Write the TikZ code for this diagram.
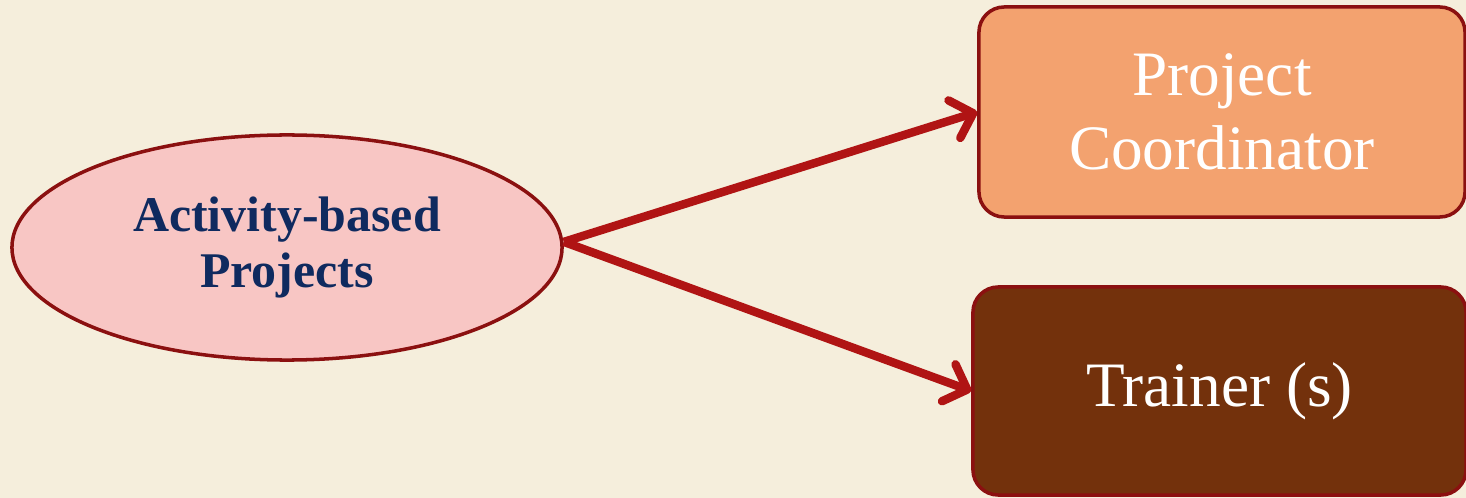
\documentclass[tikz,border=0pt]{standalone}
\usepackage{fontspec}
\setmainfont{Liberation Serif}
\usetikzlibrary{shapes.geometric,arrows.meta}
\definecolor{bgc}{HTML}{F5EEDC}
\definecolor{edgec}{HTML}{8B1010}
\definecolor{ellfill}{HTML}{F8C6C4}
\definecolor{navyc}{HTML}{0F2A5F}
\definecolor{topfill}{HTML}{F3A26F}
\definecolor{botfill}{HTML}{73310C}
\definecolor{arrc}{HTML}{B01414}
\tikzset{
  px/.style={x=0.025cm,y=-0.025cm},
  ellbox/.style={ellipse,draw=edgec,fill=ellfill,line width=2.5pt,inner sep=0pt,
    minimum width=13.75cm,minimum height=5.625cm,text=navyc,align=center,
    font=\fontsize{35.5}{40}\selectfont\bfseries},
  rolebox/.style={rectangle,rounded corners=18pt,draw=edgec,line width=2.5pt,inner sep=0pt,
    text=white,align=center,font=\fontsize{45}{53}\selectfont},
  arr/.style={draw=arrc,line width=6pt,-{Straight Barb[round,length=14pt,width=28pt]}}
}
\begin{document}
\begin{tikzpicture}[px]
\fill[bgc] (0,0) rectangle (1466,498);
\useasboundingbox (0,0) rectangle (1466,498);
\node[ellbox] (ell) at (287,247.5) {Activity-based\\Projects};
\node[rolebox,fill=topfill,minimum width=12.15cm,minimum height=5.25cm] (coord) at (1222,112) {Project\\Coordinator};
\node[rolebox,fill=botfill,minimum width=12.325cm,minimum height=5.2cm] (train) at (1219.5,391) {Trainer (s)};
\coordinate (src) at ([yshift=4pt]ell.east);
\draw[arr] (src) -- (coord.west);
\draw[arr] (src) -- (train.west);
\end{tikzpicture}
\end{document}
